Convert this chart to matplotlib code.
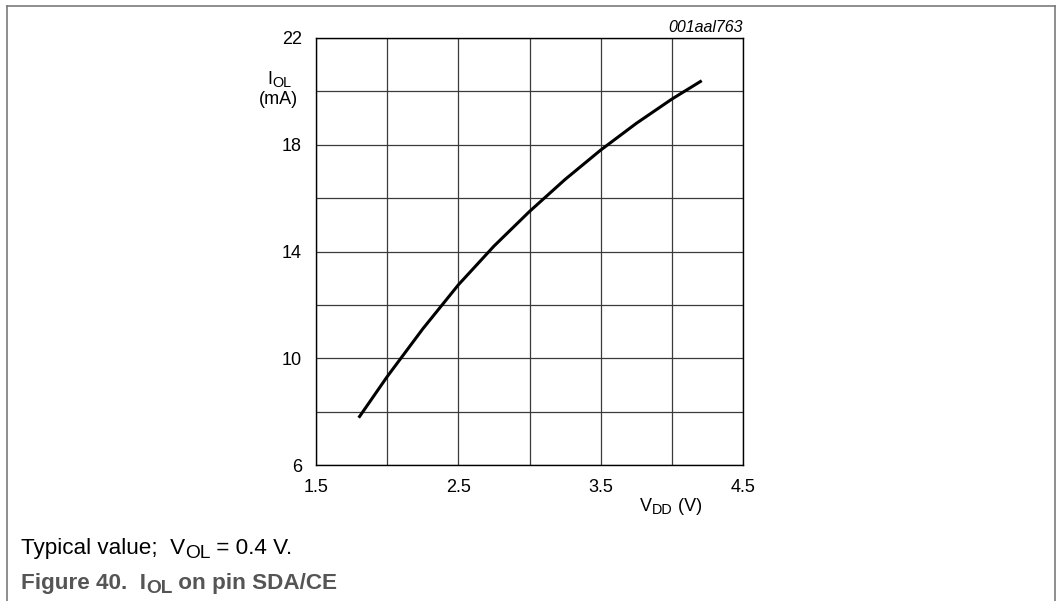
import numpy as np
import matplotlib
matplotlib.use("Agg")
import matplotlib.pyplot as plt
from matplotlib.lines import Line2D

plt.rcParams['font.family'] = ['Liberation Sans', 'DejaVu Sans']

# data
vdd = [1.80, 2.00, 2.25, 2.50, 2.75, 3.00, 3.25, 3.50, 3.75, 4.00, 4.21]
iol = [7.77, 9.31, 11.1, 12.75, 14.2, 15.5, 16.7, 17.8, 18.8, 19.71, 20.40]

xticks = [1.5, 2.5, 3.5, 4.5]
yticks = [6, 10, 14, 18, 22]
xgrid = [2.0, 3.0, 4.0]
ygrid = [8, 12, 16, 20]

W, H = 1061, 601
fig = plt.figure(figsize=(W / 100, H / 100), dpi=100)
ax = fig.add_axes([316 / W, (H - 465) / H, 427 / W, 427 / H])

ax.plot(vdd, iol, color='black', lw=2.2, solid_capstyle='butt', solid_joinstyle='round')

ax.set_xlim(1.5, 4.5)
ax.set_ylim(6, 22)
ax.set_xticks(xticks)
ax.set_yticks(yticks)
ax.set_xticks(xgrid, minor=True)
ax.set_yticks(ygrid, minor=True)
ax.set_xticklabels([str(v) for v in xticks])
ax.set_yticklabels([str(v) for v in yticks])
ax.tick_params(which='both', length=0, labelsize=13, colors='black')
ax.tick_params(axis='x', pad=10)
ax.tick_params(axis='y', pad=10)
ax.grid(which='both', color='#3a3a3a', lw=0.9)
for s in ax.spines.values():
    s.set_color('black')
    s.set_linewidth(1.0)

renderer = fig.canvas.get_renderer()


def rich(x, y, parts, size, sub_scale=0.8, sub_drop=0.25, **kw):
    # write text pieces left to right from pixel (x, y baseline), subscripts smaller and lower
    for txt, sub in parts:
        fs = size * sub_scale if sub else size
        yy = y + (size * sub_drop if sub else 0)
        t = fig.text(x / W, 1 - yy / H, txt, fontsize=fs, ha='left', va='baseline', **kw)
        x += t.get_window_extent(renderer).width


rich(267, 84, [('I', False), ('OL', True)], 13, sub_drop=0.2)
fig.text(278 / W, 1 - 104 / H, '(mA)', ha='center', va='baseline', fontsize=13)
rich(640, 511, [('V', False), ('DD', True), (' (V)', False)], 13)
fig.text(743 / W, 1 - 32 / H, '001aal763', ha='right', va='baseline', fontsize=11.5, style='italic')

rich(21, 554, [('Typical value;  V', False), ('OL', True), (' = 0.4 V.', False)], 16.2, sub_scale=0.85)
rich(21, 589, [('Figure 40.  I', False), ('OL', True), (' on pin SDA/CE', False)], 16.2, sub_scale=0.85,
     weight='bold', color='#555555')

# frame around the figure (open at the bottom)
frame = dict(color='#7a7a7a', lw=1.2, transform=fig.transFigure)
fig.add_artist(Line2D([7 / W, 7 / W], [0, 1 - 6 / H], **frame))
fig.add_artist(Line2D([7 / W, 1055 / W], [1 - 6 / H, 1 - 6 / H], **frame))
fig.add_artist(Line2D([1055 / W, 1055 / W], [1 - 6 / H, 0], **frame))

fig.savefig('out.png', dpi=100)
